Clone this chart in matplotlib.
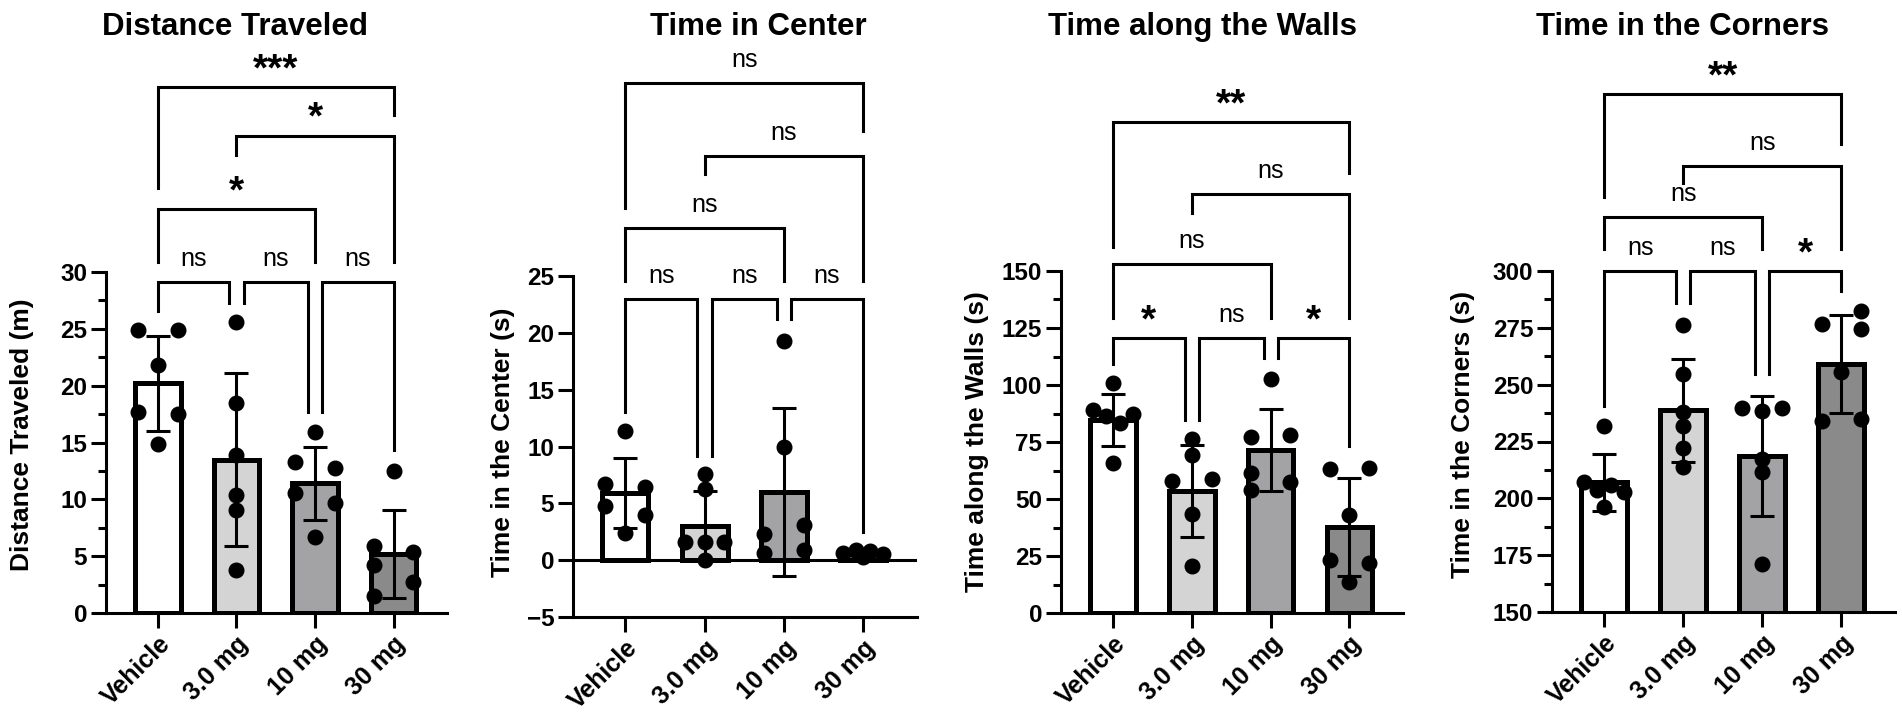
import matplotlib
matplotlib.use("Agg")
import matplotlib.pyplot as plt
from matplotlib.ticker import MultipleLocator

plt.rcParams["font.family"] = ["Liberation Sans", "DejaVu Sans"]
plt.rcParams["font.weight"] = "bold"

W, H = 1902, 725

groups = ["Vehicle", "3.0 mg", "10 mg", "30 mg"]
bar_colors = ["#ffffff", "#d4d4d4", "#a3a3a6", "#8a8a8a"]

# Distance Traveled (m)
dist_mean = [20.2, 13.5, 11.4, 5.2]
dist_sd = [4.2, 7.6, 3.2, 3.9]
dist_pts = [
    [24.9, 24.9, 21.8, 17.7, 17.5, 14.9],
    [25.6, 18.5, 13.9, 10.4, 9.1, 3.8],
    [15.9, 13.3, 12.8, 10.6, 9.7, 6.7],
    [12.5, 5.9, 5.4, 4.2, 2.7, 1.5],
]

# Time in Center (s)
center_mean = [5.9, 3.0, 6.0, 0.55]
center_sd = [3.1, 3.1, 7.4, 0.2]
center_pts = [
    [11.4, 6.7, 6.4, 4.8, 4.0, 2.4],
    [7.6, 6.3, 1.6, 1.6, 1.6, 0.0],
    [19.3, 10.0, 2.3, 0.6, 3.1, 0.9],
    [0.6, 0.9, 0.4, 0.8, 0.5, 0.3],
]

# Time along the Walls (s)
walls_mean = [84.6, 53.5, 71.4, 37.6]
walls_sd = [11.3, 20.2, 18.1, 21.5]
walls_pts = [
    [100.7, 88.9, 87.5, 86.3, 83.4, 65.8],
    [76.5, 69.5, 57.9, 58.9, 43.3, 20.4],
    [102.6, 77.3, 78.0, 61.6, 57.5, 53.8],
    [63.0, 63.4, 43.0, 23.2, 21.8, 13.5],
]

# Time in the Corners (s)
corners_mean = [207.0, 238.7, 218.7, 259.1]
corners_sd = [12.6, 22.8, 26.5, 21.6]
corners_pts = [
    [231.8, 207.0, 203.6, 206.0, 202.6, 196.1],
    [276.4, 254.9, 238.0, 231.8, 222.0, 213.6],
    [239.6, 238.4, 239.6, 217.5, 211.4, 171.3],
    [282.6, 276.8, 274.5, 255.5, 234.0, 234.7],
]

# where each dot sits inside its bar (L/l left, c centre, r/R right)
offsets = {"L": -0.25, "l": -0.09, "c": 0.0, "r": 0.09, "R": 0.25}
dist_pos = ["LRcLRc", "cccccc", "cLRLRc", "cLRLRL"]
center_pos = ["cLRLRc", "ccLRcc", "ccLLRR", "LlcrRc"]
walls_pos = ["cLRlrc", "ccLRcc", "cLRLRL", "LRcLRc"]
corners_pos = ["cLlrRc", "cccccc", "LcRccc", "RLRcLR"]

# comparisons: (group a, group b, bracket y, leg end a, leg end b, label)
dist_br = [
    (0, 1, 29.1, 26.6, 27.3, "ns"), (1, 2, 29.1, 27.3, 17.7, "ns"),
    (2, 3, 29.1, 17.7, 14.3, "ns"), (0, 2, 35.5, 30.9, 30.9, "*"),
    (1, 3, 42.0, 40.3, 30.9, "*"), (0, 3, 46.3, 37.4, 43.8, "***"),
]
center_br = [
    (0, 1, 22.95, 13.0, 9.2, "ns"), (1, 2, 22.95, 9.2, 21.2, "ns"),
    (2, 3, 22.95, 21.2, 2.5, "ns"), (0, 2, 29.2, 24.6, 24.6, "ns"),
    (1, 3, 35.6, 34.0, 24.6, "ns"), (0, 3, 41.95, 31.0, 37.8, "ns"),
]
walls_br = [
    (0, 1, 120.7, 109.4, 84.6, "*"), (1, 2, 120.7, 84.6, 112.0, "ns"),
    (2, 3, 120.7, 112.0, 73.3, "*"), (0, 2, 152.9, 129.5, 129.5, "ns"),
    (1, 3, 183.6, 175.3, 129.3, "ns"), (0, 3, 215.5, 160.7, 192.8, "**"),
]
corners_br = [
    (0, 1, 300.1, 240.6, 286.1, "ns"), (1, 2, 300.1, 286.1, 254.7, "ns"),
    (2, 3, 300.1, 254.7, 291.4, "*"), (0, 2, 323.6, 309.7, 309.7, "ns"),
    (1, 3, 346.3, 338.9, 309.7, "ns"), (0, 3, 377.9, 332.7, 355.9, "**"),
]

panels = [
    dict(title="Distance Traveled", ylabel="Distance Traveled (m)",
         mean=dist_mean, sd=dist_sd, pts=dist_pts, pos=dist_pos, br=dist_br,
         ylim=(0, 30), major=5, minor=2.5, box=(106, 447, 272, 613),
         title_x=235, label_xy=(22, 435)),
    dict(title="Time in Center", ylabel="Time in the Center (s)",
         mean=center_mean, sd=center_sd, pts=center_pts, pos=center_pos, br=center_br,
         ylim=(-5, 25), major=5, minor=None, box=(573, 917, 276, 617),
         title_x=758, label_xy=(503, 442)),
    dict(title="Time along the Walls", ylabel="Time along the Walls (s)",
         mean=walls_mean, sd=walls_sd, pts=walls_pts, pos=walls_pos, br=walls_br,
         ylim=(0, 150), major=25, minor=12.5, box=(1061, 1403, 271, 613),
         title_x=1203, label_xy=(977, 442)),
    dict(title="Time in the Corners", ylabel="Time in the Corners (s)",
         mean=corners_mean, sd=corners_sd, pts=corners_pts, pos=corners_pos, br=corners_br,
         ylim=(150, 300), major=25, minor=12.5, box=(1552, 1895, 271, 612),
         title_x=1682, label_xy=(1463, 434)),
]

fig = plt.figure(figsize=(W / 100, H / 100), dpi=100)

for p in panels:
    l, r, t, b = p["box"]
    ax = fig.add_axes([l / W, (H - b) / H, (r - l) / W, (b - t) / H])
    x = list(range(len(groups)))

    ax.bar(x, p["mean"], width=0.58, color=bar_colors, edgecolor="black",
           linewidth=3.6, zorder=2)
    ax.errorbar(x, p["mean"], yerr=p["sd"], fmt="none", ecolor="black",
                elinewidth=2.2, capsize=8.5, capthick=2.2, zorder=3)
    for k in x:
        xs = [k + offsets[c] for c in p["pos"][k]]
        ax.plot(xs, p["pts"][k], "o", color="black", ms=10.5, zorder=4, clip_on=False)

    if p["ylim"][0] < 0:
        ax.axhline(0, color="black", lw=2.2, zorder=1.5)

    ax.set_xlim(-0.66, 3.68)
    ax.set_ylim(*p["ylim"])
    ax.yaxis.set_major_locator(MultipleLocator(p["major"]))
    if p["minor"]:
        ax.yaxis.set_minor_locator(MultipleLocator(p["minor"]))
    ax.spines[["top", "right"]].set_visible(False)
    ax.spines[["left", "bottom"]].set_linewidth(2.2)
    ax.tick_params(which="major", width=2.2, length=10.5, labelsize=17.5, pad=3)
    ax.tick_params(which="minor", width=2.2, length=6)
    ax.set_xticks(x, groups, rotation=45, ha="right", rotation_mode="anchor",
                  fontsize=18, fontweight="bold")

    ax.set_ylabel(p["ylabel"], fontsize=19, fontweight="bold", va="center")
    lx, ly = p["label_xy"]
    ax.yaxis.set_label_coords(lx / W, (H - ly) / H, transform=fig.transFigure)

    fig.text(p["title_x"] / W, (H - 35) / H, p["title"], ha="center",
             va="baseline", fontsize=22.5, fontweight="bold")

    for a, c, y, la, lc, txt in p["br"]:
        x0, x1 = a, c
        if c - a == 1:
            if a > 0:
                x0 = a + 0.09
            if c < 3:
                x1 = c - 0.09
        ax.plot([x0, x0, x1, x1], [la, y, y, lc], color="black", lw=2.2,
                clip_on=False, solid_joinstyle="miter", zorder=5)
        if txt == "ns":
            ax.annotate(txt, xy=((x0 + x1) / 2, y), xytext=(0, 16.5),
                        textcoords="offset points", ha="center", va="center",
                        fontsize=18, fontweight="normal", annotation_clip=False)
        else:
            ax.annotate(txt, xy=((x0 + x1) / 2, y), xytext=(0, 12),
                        textcoords="offset points", ha="center", va="center",
                        fontsize=28, fontweight="bold", annotation_clip=False)

fig.savefig("out.png", dpi=100)
